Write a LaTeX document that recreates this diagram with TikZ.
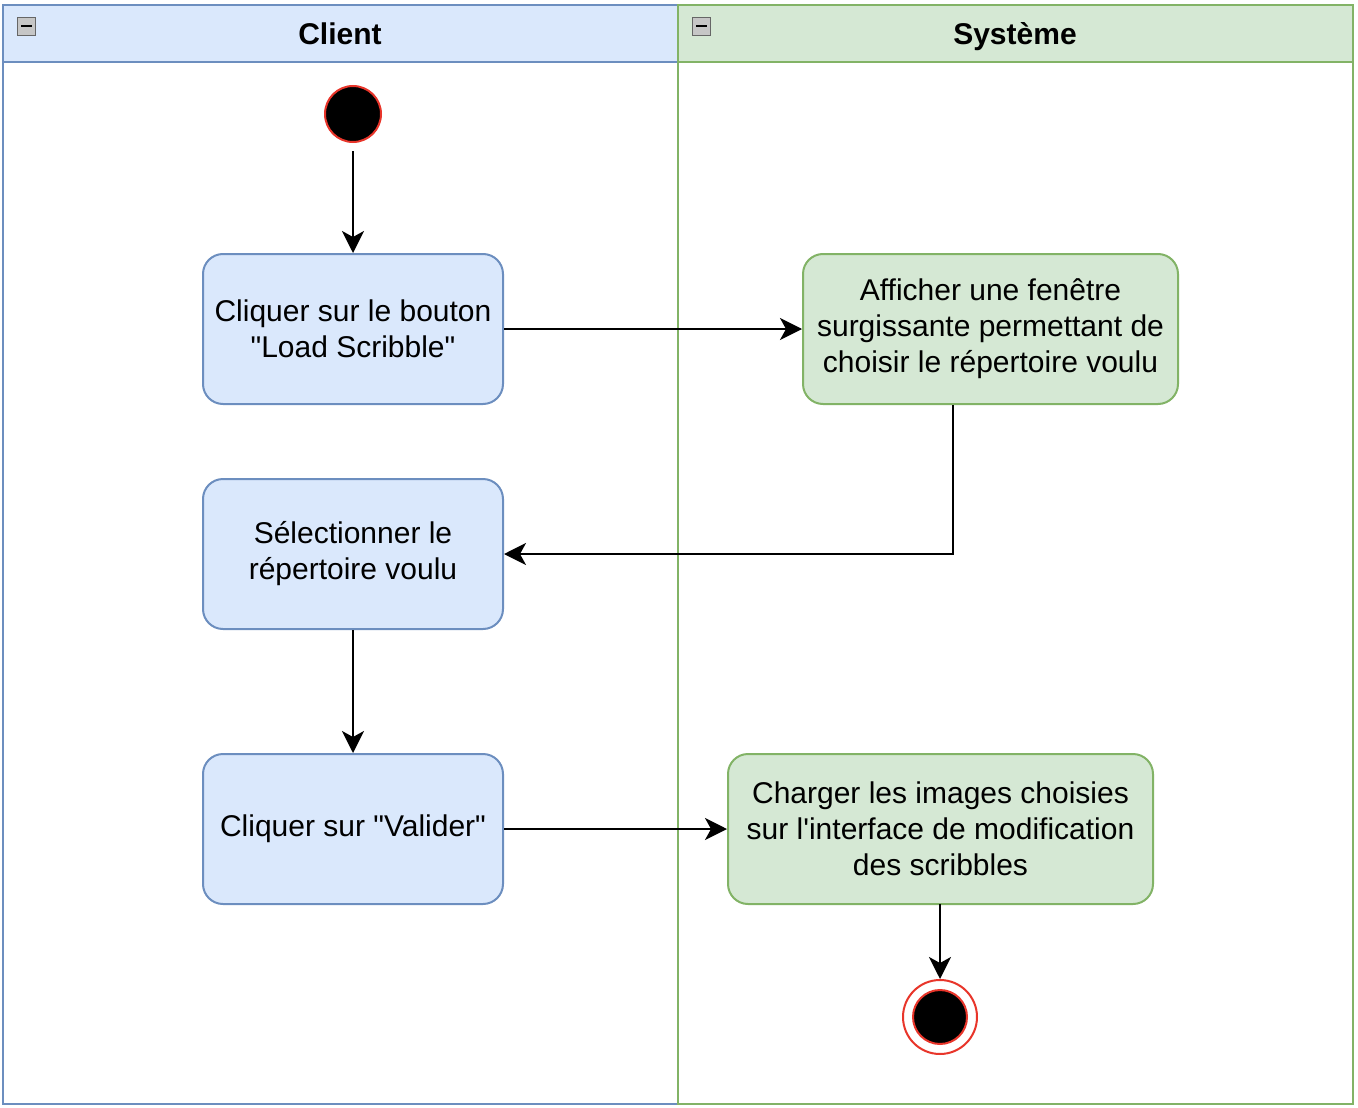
\documentclass[tikz,border=0pt]{standalone}
\usepackage{fontspec}
\setmainfont{Liberation Sans}[Ligatures=TeXOff]
\usetikzlibrary{arrows.meta}
\definecolor{blueF}{HTML}{DAE8FC}
\definecolor{blueS}{HTML}{6C8EBF}
\definecolor{greenF}{HTML}{D5E8D4}
\definecolor{greenS}{HTML}{82B366}
\definecolor{redS}{HTML}{E8352A}
\begin{document}
\begin{tikzpicture}[x=1pt,y=-1pt,
  every node/.style={font=\fontsize{30}{36}\selectfont, align=center, inner sep=0pt},
  act/.style={draw, line width=2pt, rounded corners=20pt, minimum width=300pt, minimum height=150pt},
  cact/.style={act, fill=blueF, draw=blueS},
  sact/.style={act, fill=greenF, draw=greenS},
  flow/.style={line width=2pt, -{Stealth[length=22pt, width=22pt, inset=6pt]}},
  hdr/.style={font=\fontsize{30}{34}\selectfont\bfseries, anchor=base},
  icon/.style={draw=gray!80!black, fill=gray!45, line width=1pt, minimum size=18pt}
]
\useasboundingbox (0,0) rectangle (1358,1108);
% lanes
\draw[draw=blueS, line width=2pt] (3,62) rectangle (678,1104);
\draw[draw=blueS, fill=blueF, line width=2pt] (3,5) rectangle (678,62);
\draw[draw=greenS, line width=2pt] (678,62) rectangle (1353,1104);
\draw[draw=greenS, fill=greenF, line width=2pt] (678,5) rectangle (1353,62);
\node[hdr] (hc) at (340,44.5) {Client};
\node[hdr] (hs) at (1015,44.5) {Système};
% collapse icons
\node[icon] (ic1) at (26.5,26.5) {};
\draw[line width=2pt] (21,26.5) -- (32,26.5);
\node[icon] (ic2) at (701.5,26.5) {};
\draw[line width=2pt] (696,26.5) -- (707,26.5);
% nodes
\node[circle, fill=black, draw=redS, line width=2pt, minimum size=56pt] (start) at (353,114) {};
\node[cact] (b1) at (353,329) {Cliquer sur le bouton\\"Load Scribble"};
\node[sact, minimum width=375pt] (b2) at (990.5,329) {\raisebox{0pt}[0pt][0pt]{}Afficher une fenêtre\\surgissante permettant de\\choisir le répertoire voulu};
\node[cact] (b3) at (353,554) {Sélectionner le\\répertoire voulu};
\node[cact] (b4) at (353,829) {Cliquer sur "Valider"};
\node[sact, minimum width=425pt] (b5) at (940.5,829) {Charger les images choisies\\sur l'interface de modification\\des scribbles};
\node[circle, draw=redS, fill=white, line width=2pt, minimum size=74pt] (end) at (940,1017) {};
\node[circle, draw=redS, fill=black, line width=2pt, minimum size=54pt] (endin) at (940,1017) {};
% flows
\draw[flow, shorten <=8pt] (start) -- (b1);
\draw[flow] (b1) -- (b2);
\coordinate (c1) at (953,554);
\draw[flow] (b2.south -| c1) -- (c1) -- (b3.east);
\draw[flow] (b3) -- (b4);
\draw[flow] (b4) -- (b5);
\coordinate (c2) at (940,904);
\draw[flow] (c2) -- (end);
\end{tikzpicture}
\end{document}
